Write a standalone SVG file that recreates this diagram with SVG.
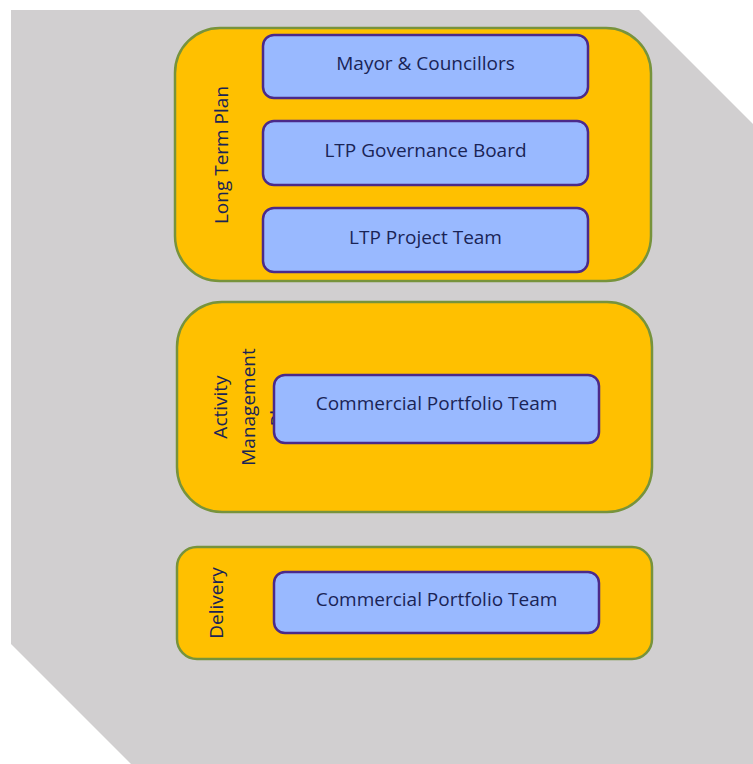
<svg xmlns="http://www.w3.org/2000/svg" width="753" height="764" viewBox="0 0 753 764">
<style>
.grp{fill:#FFC000;stroke:#77933C;stroke-width:2.5}
.box{fill:#99B9FF;stroke:#4B2A8A;stroke-width:2.5}
text{font-family:"Open Sans","Noto Sans","Liberation Sans",sans-serif;font-size:19px;fill:#1A2456;text-anchor:middle;dominant-baseline:central}
</style>
<rect width="753" height="764" fill="#FFFFFF"/>
<polygon points="11,10 639,10 760,131 760,770 137,770 11,644" fill="#D1CFD0"/>
<g id="ltp">
<rect class="grp" x="175" y="28" width="476" height="253" rx="45"/>
<text transform="translate(221,155) rotate(-90)">Long Term Plan</text>
</g>
<g id="amp">
<rect class="grp" x="177" y="302" width="475" height="210" rx="45"/>
<text transform="translate(220,407) rotate(-90)">Activity</text>
<text transform="translate(248,407) rotate(-90)">Management</text>
<text transform="translate(277,407) rotate(-90)">Plan</text>
</g>
<g id="delivery">
<rect class="grp" x="177" y="547" width="475" height="112" rx="20"/>
<text transform="translate(216,603) rotate(-90)">Delivery</text>
</g>
<g id="mayor">
<rect class="box" x="263" y="35" width="325" height="63" rx="11"/>
<text x="425.5" y="62.5">Mayor &amp; Councillors</text>
</g>
<g id="ltp-board">
<rect class="box" x="263" y="121" width="325" height="64" rx="11"/>
<text x="425.5" y="149.5">LTP Governance Board</text>
</g>
<g id="ltp-team">
<rect class="box" x="263" y="208" width="325" height="64" rx="11"/>
<text x="425.5" y="236.5">LTP Project Team</text>
</g>
<g id="cpt-amp">
<rect class="box" x="274" y="375" width="325" height="68" rx="11"/>
<text x="436.5" y="402.5">Commercial Portfolio Team</text>
</g>
<g id="cpt-delivery">
<rect class="box" x="274" y="572" width="325" height="61" rx="11"/>
<text x="436.5" y="598.5">Commercial Portfolio Team</text>
</g>
<g id="connectors"></g>
</svg>
